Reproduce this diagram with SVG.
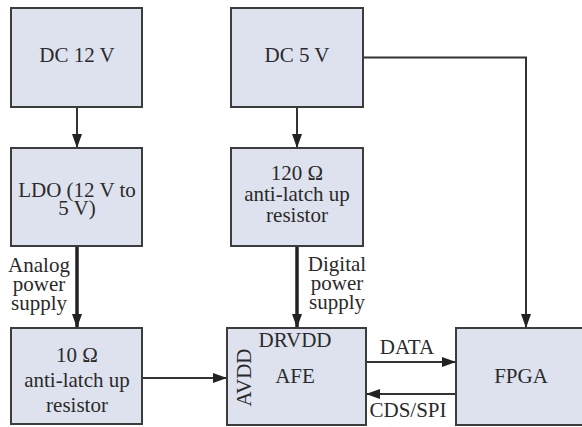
<svg xmlns="http://www.w3.org/2000/svg" width="582" height="427" viewBox="0 0 582 427">
<style>
.box{fill:#dee2ee;stroke:#3c3c3c;stroke-width:2}
.t{font-family:'Liberation Serif','Times New Roman',serif;font-size:21px;fill:#2a2a2a;text-anchor:middle}
.thin{stroke:#333;stroke-width:2;fill:none}
.thick{stroke:#222;stroke-width:3.5;fill:none}
</style>
<defs>
<marker id="ah" viewBox="0 0 14 10" refX="14" refY="5" markerWidth="14" markerHeight="10" markerUnits="userSpaceOnUse" orient="auto">
<path d="M0,0 L14,5 L0,10 z" fill="#222"/>
</marker>
</defs>
<rect width="582" height="427" fill="#fff"/>
<g id="connectors">
<line class="thin" x1="77" y1="107" x2="77" y2="148" marker-end="url(#ah)"/>
<line class="thin" x1="297" y1="107" x2="297" y2="148" marker-end="url(#ah)"/>
<polyline class="thin" points="363,57.5 526,57.5 526,328" marker-end="url(#ah)"/>
<line class="thick" x1="77" y1="246" x2="77" y2="328" marker-end="url(#ah)"/>
<line class="thick" x1="297" y1="246" x2="297" y2="328" marker-end="url(#ah)"/>
<line class="thin" x1="142" y1="378" x2="227" y2="378" marker-end="url(#ah)"/>
<line class="thin" x1="366" y1="362" x2="456" y2="362" marker-end="url(#ah)"/>
<line class="thin" x1="456" y1="394" x2="366" y2="394" marker-end="url(#ah)"/>
<text class="t" x="39" y="272">Analog</text>
<text class="t" x="39" y="291">power</text>
<text class="t" x="39" y="310">supply</text>
<text class="t" x="337" y="271">Digital</text>
<text class="t" x="337" y="290">power</text>
<text class="t" x="337" y="309">supply</text>
<text class="t" x="407" y="354">DATA</text>
<text class="t" x="408" y="417">CDS/SPI</text>
</g>
<g id="dc12">
<rect class="box" x="11" y="8" width="131" height="99"/>
<text class="t" x="77" y="62">DC 12 V</text>
</g>
<g id="dc5">
<rect class="box" x="231" y="8" width="132" height="99"/>
<text class="t" x="297" y="62">DC 5 V</text>
</g>
<g id="ldo">
<rect class="box" x="11" y="148" width="131" height="98"/>
<text class="t" x="77" y="197">LDO (12 V to</text>
<text class="t" x="77" y="215">5 V)</text>
</g>
<g id="r120">
<rect class="box" x="231" y="148" width="132" height="98"/>
<text class="t" x="297" y="180">120 Ω</text>
<text class="t" x="297" y="201">anti-latch up</text>
<text class="t" x="297" y="222">resistor</text>
</g>
<g id="r10">
<rect class="box" x="11" y="328" width="131" height="96"/>
<text class="t" x="77" y="362">10 Ω</text>
<text class="t" x="77" y="387">anti-latch up</text>
<text class="t" x="77" y="412">resistor</text>
</g>
<g id="afe">
<rect class="box" x="227" y="328" width="139" height="97"/>
<text class="t" x="295" y="347">DRVDD</text>
<text class="t" x="295" y="383">AFE</text>
<text class="t" x="251" y="377.5" transform="rotate(-90 251 377.5)">AVDD</text>
</g>
<g id="fpga">
<rect class="box" x="456" y="328" width="131" height="97"/>
<text class="t" x="521" y="383">FPGA</text>
</g>
</svg>
